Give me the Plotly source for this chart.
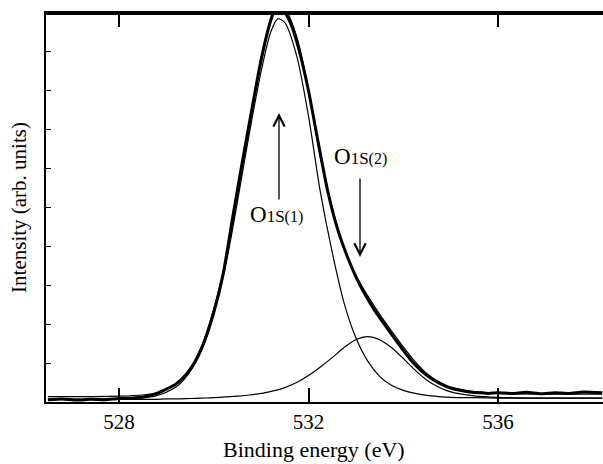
import plotly.graph_objects as go

# ---- data ----
energy_fit = [526.5, 527.0, 527.5, 528.0, 528.5, 528.75, 529.0, 529.25, 529.5, 529.75,
              530.0, 530.25, 530.5, 530.75, 531.0, 531.2, 531.35, 531.5, 531.75, 532.0,
              532.25, 532.5, 532.75, 533.0, 533.25, 533.5, 533.75, 534.0, 534.25, 534.5,
              534.75, 535.0, 535.5, 536.0, 537.0, 538.2]

peak1 = [0.07, 0.07, 0.07, 0.08, 0.11, 0.15, 0.25, 0.43, 0.78, 1.36,
         2.28, 3.5, 5.15, 6.9, 8.5, 9.5, 9.85, 9.75, 8.9, 7.35,
         5.4, 3.85, 2.55, 1.65, 1.05, 0.66, 0.43, 0.3, 0.22, 0.17,
         0.14, 0.12, 0.11, 0.1, 0.1, 0.1]

peak2 = [0.07, 0.07, 0.07, 0.07, 0.07, 0.07, 0.08, 0.08, 0.09, 0.1,
         0.11, 0.13, 0.15, 0.18, 0.22, 0.27, 0.31, 0.37, 0.5, 0.68,
         0.9, 1.14, 1.4, 1.6, 1.68, 1.6, 1.4, 1.12, 0.82, 0.56,
         0.38, 0.26, 0.16, 0.12, 0.1, 0.1]

envelope = [0.14, 0.14, 0.14, 0.15, 0.18, 0.22, 0.33, 0.51, 0.87, 1.46,
            2.39, 3.63, 5.3, 7.08, 8.72, 9.77, 10.16, 10.12, 9.4, 8.03,
            6.3, 4.99, 3.95, 3.25, 2.73, 2.26, 1.83, 1.42, 1.04, 0.73,
            0.52, 0.38, 0.27, 0.22, 0.2, 0.2]

energy_meas = [526.5, 526.8, 527.1, 527.4, 527.7, 528.0, 528.3, 528.6, 528.8, 529.0,
               529.2, 529.4, 529.6, 529.8, 530.0, 530.2, 530.4, 530.6, 530.8, 531.0,
               531.2, 531.3, 531.4, 531.5, 531.65, 531.8, 532.0, 532.2, 532.4, 532.6,
               532.8, 533.0, 533.2, 533.4, 533.6, 533.8, 534.0, 534.2, 534.4,
               534.6, 534.8, 535.0, 535.2, 535.4, 535.6, 535.8, 536.0, 536.3, 536.6,
               536.9, 537.2, 537.5, 537.8, 538.2]

intensity_meas = [0.06, 0.08, 0.05, 0.07, 0.06, 0.09, 0.1, 0.15, 0.22, 0.33,
                  0.46, 0.68, 1.02, 1.55, 2.3, 3.3, 4.75, 6.15, 7.5, 8.8,
                  9.8, 10.12, 10.15, 10.02, 9.65, 9.05, 8.0, 6.7, 5.45, 4.5,
                  3.8, 3.22, 2.75, 2.35, 2.0, 1.66, 1.33, 1.02, 0.78,
                  0.6, 0.46, 0.36, 0.3, 0.26, 0.24, 0.22, 0.24, 0.22, 0.25,
                  0.21, 0.24, 0.22, 0.26, 0.24]

x_tick_vals = [528, 532, 536]
x_tick_text = ["528", "532", "536"]

FONT = "Liberation Serif"

fig = go.Figure()
fig.add_trace(go.Scatter(x=energy_meas, y=intensity_meas, mode="lines",
                         line=dict(color="black", width=3, shape="spline", smoothing=0.5),
                         showlegend=False, hoverinfo="skip"))
fig.add_trace(go.Scatter(x=energy_fit, y=envelope, mode="lines",
                         line=dict(color="black", width=1.2, shape="spline", smoothing=0.8),
                         showlegend=False, hoverinfo="skip"))
fig.add_trace(go.Scatter(x=energy_fit, y=peak1, mode="lines",
                         line=dict(color="black", width=1.2, shape="spline", smoothing=0.8),
                         showlegend=False, hoverinfo="skip"))
fig.add_trace(go.Scatter(x=energy_fit, y=peak2, mode="lines",
                         line=dict(color="black", width=1.2, shape="spline", smoothing=0.8),
                         showlegend=False, hoverinfo="skip"))

def lab(n):
    return ("O<span style='font-size:17px'>1S</span>"
            f"<span style='font-size:16px'>({n})</span>")

# arrows
fig.add_annotation(x=531.377, y=7.43, ax=0, ay=88, xref="x", yref="y",
                   text="", showarrow=True, arrowhead=5, arrowsize=1.7,
                   arrowwidth=1.3, arrowcolor="black")
fig.add_annotation(x=533.087, y=3.73, ax=0, ay=-80, xref="x", yref="y",
                   text="", showarrow=True, arrowhead=5, arrowsize=1.7,
                   arrowwidth=1.3, arrowcolor="black")
fig.add_annotation(x=531.33, y=4.81, xref="x", yref="y", text=lab(1),
                   showarrow=False, font=dict(family=FONT, size=23, color="black"))
fig.add_annotation(x=533.09, y=6.3, xref="x", yref="y", text=lab(2),
                   showarrow=False, font=dict(family=FONT, size=23, color="black"))

# x-axis title (reference centres it slightly left of the visible plot centre)
fig.add_annotation(x=0.481, y=-0.123, xref="paper", yref="paper",
                   text="Binding energy (eV)", showarrow=False,
                   xanchor="center", yanchor="middle",
                   font=dict(family=FONT, size=22, color="black"))

# top frame line
fig.add_shape(type="line", xref="paper", yref="paper", x0=0, x1=1, y0=0.998, y1=0.998,
              line=dict(color="black", width=2.5), layer="above")

fig.update_layout(
    width=603, height=464,
    margin=dict(l=46, r=0, t=13, b=62, autoexpand=False),
    paper_bgcolor="white", plot_bgcolor="white",
    font=dict(family=FONT, size=21, color="black"),
)
fig.update_xaxes(range=[526.459, 538.216], showgrid=False, zeroline=False,
                 automargin=False,
                 showline=True, linecolor="black", linewidth=2, mirror="allticks",
                 ticks="inside", ticklen=14, tickwidth=1.5, tickcolor="black",
                 tickvals=x_tick_vals, ticktext=x_tick_text,
                 tickfont=dict(family=FONT, size=21))
fig.update_yaxes(range=[0, 10], showgrid=False, zeroline=False,
                 automargin=False,
                 showline=True, linecolor="black", linewidth=2, mirror=False,
                 ticks="inside", ticklen=5, tickwidth=1.2, tickcolor="black",
                 dtick=1, showticklabels=False,
                 title=dict(text="Intensity (arb. units)", font=dict(family=FONT, size=21),
                            standoff=12))

fig.write_html("out.html", config={"displayModeBar": False},
               post_script="document.body.style.margin='0px';document.body.style.padding='0px';")
